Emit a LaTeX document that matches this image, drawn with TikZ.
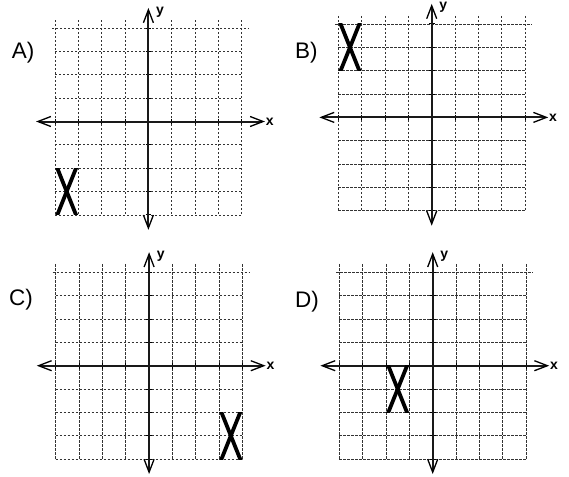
\documentclass[tikz,border=0pt]{standalone}
\usepackage{fontspec}
\setmainfont{Liberation Sans}
\tikzset{
  gridline/.style={draw=black!80, line width=0.8pt, dash pattern=on 2.2pt off 1.8pt},
  axisline/.style={draw=black!90, line width=2pt},
  barb/.style={draw=black, line width=1.3pt, line join=miter},
  tickmark/.style={draw=black, line width=1pt},
  xmark/.style={draw=black, line width=3.8pt},
  panellabel/.style={font=\fontsize{22.5}{26}\selectfont, inner sep=0pt, anchor=west},
  axislabel/.style={font=\bfseries\fontsize{14}{16}\selectfont, inner sep=0pt, anchor=west},
}
\newcommand\gridpanel[8]{%
  % #1 name, #2 left, #3 top, #4 label, #5 label x, #6 label y, #7 X column, #8 X row
  \node[panellabel] (#1-label) at (#5,#6) {#4};
  \begin{scope}[shift={(#2,#3)}]
    \def\cs{23.35}
    \foreach \i in {0,...,8} \draw[gridline] ({\i*\cs},-8) -- ({\i*\cs},186.8);
    \foreach \j in {1,...,8} \draw[gridline] (0,{\j*\cs}) -- (186.8,{\j*\cs});
    \draw[gridline] (-3,0) -- (194,0);
    \coordinate (#1-o) at (93.4,93.4);
    \coordinate (#1-xl) at (-17.1,93.4);
    \coordinate (#1-xr) at (208.1,93.4);
    \coordinate (#1-yt) at (93.4,-18.3);
    \coordinate (#1-yb) at (93.4,199.9);
    \foreach \i in {0,1,2,3,5,6,7,8} {
      \draw[tickmark] ({\i*\cs},90.6) -- ({\i*\cs},96.2);
      \draw[tickmark] (90.6,{\i*\cs}) -- (96.2,{\i*\cs});
    }
    \draw[axisline] ([xshift=1pt]#1-xl) -- ([xshift=-1pt]#1-xr);
    \draw[axisline] ([yshift=-1pt]#1-yt) -- ([yshift=1pt]#1-yb);
    \draw[barb] ([shift={(-13,-5)}]#1-xr) -- (#1-xr) -- ([shift={(-13,5)}]#1-xr);
    \draw[barb] ([shift={(13,-5)}]#1-xl) -- (#1-xl) -- ([shift={(13,5)}]#1-xl);
    \draw[barb] ([shift={(-5,13)}]#1-yt) -- (#1-yt) -- ([shift={(5,13)}]#1-yt);
    \draw[barb] ([shift={(-5,-13)}]#1-yb) -- (#1-yb) -- ([shift={(5,-13)}]#1-yb);
    \node[axislabel] (#1-x) at ([xshift=2.6pt]#1-xr) {x};
    \node[axislabel] (#1-y) at ([xshift=7.5pt,yshift=-2pt]#1-yt) {y};
    \begin{scope}
      \clip ({#7*\cs-4},{#8*\cs}) rectangle ({(#7+1)*\cs+4},{(#8+2)*\cs});
      \draw[xmark] ({#7*\cs+2.5-1.2},{#8*\cs-2.5}) -- ({(#7+1)*\cs-2.5+1.2},{(#8+2)*\cs+2.5});
      \draw[xmark] ({(#7+1)*\cs-2.5+1.2},{#8*\cs-2.5}) -- ({#7*\cs+2.5-1.2},{(#8+2)*\cs+2.5});
    \end{scope}
  \end{scope}
}
\begin{document}
\begin{tikzpicture}[x=1pt,y=-1pt]
  \useasboundingbox (0,0) rectangle (569,476);
  \gridpanel{A}{55}{28.1}{A)}{11.7}{53}{0}{6}
  \gridpanel{B}{338.3}{24}{B)}{295}{53}{0}{0}
  \gridpanel{C}{55.7}{272.3}{C)}{9}{300}{7}{6}
  \gridpanel{D}{339.3}{272.3}{D)}{295}{301.7}{2}{4}
\end{tikzpicture}
\end{document}
